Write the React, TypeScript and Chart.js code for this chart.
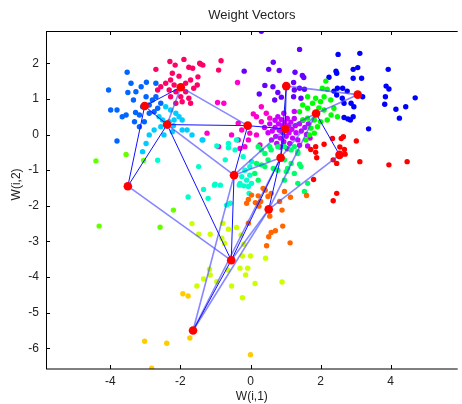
import { useEffect, useRef } from "react";
import Chart from "chart.js/auto";

const TITLE = "Weight Vectors";
const X_LABEL = "W(i,1)";
const Y_LABEL = "W(i,2)";
const X_MIN = -5.836;
const X_MAX = 5.913;
const Y_MIN = -6.581;
const Y_MAX = 2.907;
const X_STEP = 2;
const Y_STEP = 1;
// value on the y axis where the rotated y label is centred
const Y_LABEL_AT = -1.4;

// SOM neuron weight positions
const NODE_X = [-1.99, -3.02, -2.38, -0.08, -0.47, -3.5, 1.02, 3.06, 1.87, 0.99, 0.86, 2.54, 0.52, -0.55, -1.64];
const NODE_Y = [1.33, 0.8, 0.28, 0.25, -1.14, -1.45, 1.36, 1.12, 0.59, 0.16, -0.65, -0.57, -2.1, -3.53, -5.5];

// neighbour links (node index pairs)
const DARK_EDGES = [
  [0, 1], [1, 2], [1, 5], [2, 3], [2, 5], [2, 13], [3, 4], [3, 9], [6, 9], [6, 10],
  [8, 11], [12, 10], [13, 4], [13, 10], [14, 13], [9, 10],
];
const LIGHT_EDGES = [
  [0, 2], [0, 3], [2, 4], [5, 13], [6, 7], [7, 8], [8, 9], [8, 10], [11, 12], [13, 12],
  [14, 4], [14, 12], [4, 10], [4, 9], [12, 8], [14, 10],
];

// input vectors, grouped by cluster colour
const RED_PTS = [[2.65, -0.06], [2.59, -0.11], [2.34, -0.11], [2.1, -0.27], [1.86, -0.34], [1.72, -0.42], [1.86, -0.5], [1.89, -0.65], [3.02, -0.18], [2.68, -0.42], [2.36, -0.71], [2.46, -0.81], [3.12, -0.76], [3.95, -0.85], [4.47, -0.76], [1.8, -1.26], [2.46, -1.65], [2.36, -1.86], [2.55, -0.35], [2.7, -0.55]];
const ORANGE_PTS = [[0.36, -1.51], [0.42, -1.56], [0.22, -1.72], [0.03, -1.7], [-0.06, -1.82], [-0.11, -1.93], [0.14, -1.91], [0.29, -1.88], [0.5, -1.74], [0.59, -1.65], [0.97, -1.6], [1.14, -1.76], [1.6, -1.71], [0.83, -1.88], [0.24, -2.01], [0.55, -2.29], [0.9, -2.12], [-0.06, -2.49], [0.92, -2.57], [0.71, -2.7], [0.59, -2.75], [0.52, -2.87], [1.13, -3.04], [0.46, -3.12]];
const AMBER_PTS = [[-1.93, -4.47], [-1.78, -4.53], [-1.73, -5.71], [-3.02, -5.8], [-2.39, -5.86], [0.0, -6.18], [-2.82, -6.56]];
const LIME_PTS = [[-1.67, -2.5], [-1.48, -2.8], [-1.15, -2.8], [-0.79, -2.49], [-0.82, -2.91], [-0.74, -3.05], [-0.63, -2.66], [-0.4, -2.61], [-0.19, -3.08], [-0.23, -3.41], [0.0, -3.41], [-0.65, -3.8], [-1.17, -3.78], [-1.15, -3.94], [-1.34, -4.05], [-1.53, -4.25], [-0.96, -4.13], [-0.54, -4.25], [-0.3, -3.75], [-0.08, -3.75], [-0.14, -3.94], [-0.23, -4.58], [0.13, -4.18], [-0.27, -2.82], [0.43, -3.47], [0.9, -4.14]];
const CHART_PTS = [[-4.41, -0.74], [-3.55, -0.56], [-3.05, -0.73], [-4.32, -2.57], [-2.58, -2.6], [-2.2, -2.12]];
const GREEN_PTS = [[2.15, 1.5], [2.05, 1.3], [2.19, 1.27], [1.63, 1.06], [1.86, 1.02], [2.0, 0.92], [2.29, 0.97], [1.77, 0.88], [1.49, 0.83], [1.63, 0.74], [1.4, 0.64], [2.1, 0.69], [2.38, 0.74], [2.48, 0.5], [1.63, 0.46], [1.82, 0.41], [2.0, 0.36], [2.19, 0.41], [1.72, 0.18], [1.91, 0.22], [1.82, 0.04], [1.68, -0.01], [1.58, -0.15], [1.49, 0.41], [2.1, 1.06], [2.3, 0.55], [1.95, 0.75]];
const SPRING_PTS = [[0.22, -0.34], [0.41, -0.53], [0.59, -0.43], [0.78, -0.34], [0.97, -0.34], [1.16, -0.43], [1.35, -0.53], [0.5, -0.71], [0.31, -0.85], [0.97, -0.71], [1.16, -0.81], [1.44, -0.9], [0.12, -1.09], [0.78, -1.0], [1.02, -1.04], [1.25, -1.09], [1.35, -1.37], [0.97, -1.28], [0.22, -1.28], [0.31, -0.43], [0.55, -0.34], [1.25, -0.34], [1.35, -0.48], [0.17, -0.81], [0.41, -0.9], [1.06, -0.95], [1.4, -0.83], [1.63, -1.37], [1.54, -1.6], [0.65, -0.95]];
const TURQ_PTS = [[-0.96, -0.32], [-0.63, -0.37], [-0.4, -0.15], [-1.48, -0.9], [-1.01, -1.39], [-0.86, -1.42], [-0.25, -1.18], [-0.11, -1.28], [0.03, -1.37], [-0.02, -1.14], [-0.16, -1.0], [-1.78, -1.75], [-1.34, -1.54], [-1.03, -1.42], [-1.21, -1.79], [-0.32, -1.42], [-0.19, -1.44], [-0.04, -1.65], [-0.68, -1.98], [-0.63, -0.25], [-0.44, -0.43], [-0.21, -0.62], [0.03, -0.76], [-0.02, -0.9], [-0.3, -1.37], [-0.06, -1.46], [-0.58, -1.93], [-0.72, -0.71], [-2.65, -0.72]];
const SKY_PTS = [[-2.89, -0.01], [-2.75, 0.13], [-2.56, 0.22], [-2.32, 0.36], [-2.18, 0.41], [-2.04, 0.5], [-1.95, 0.41], [-2.13, 0.6], [-2.28, 0.69], [-2.42, 0.78], [-2.61, 0.5], [-2.51, 0.41], [-2.23, 0.08], [-2.47, -0.01], [-1.95, 0.13], [-1.81, 0.13], [-1.67, -0.01], [-1.38, -0.15], [-2.98, -0.25], [-3.08, -0.48], [-1.36, -0.15], [-2.2, 0.25]];
const AZURE_PTS = [[-3.52, 1.75], [-4.05, 1.25], [-3.41, 1.44], [-3.12, 1.34], [-2.97, 1.47], [-3.5, 1.18], [-3.34, 0.97], [-3.99, 0.69], [-3.81, 0.69], [-3.55, 0.55], [-3.66, 0.5], [-3.28, 0.62], [-3.17, 0.55], [-3.31, 0.36], [-3.17, 0.22], [-3.03, 0.36], [-3.81, -0.18], [-2.89, 0.83], [-2.8, 0.97], [-2.7, 1.06], [-2.89, 0.6], [-2.75, 0.64], [-2.65, 0.74], [-2.56, 0.88], [-2.98, 1.06], [-3.08, 0.78], [-2.7, 1.44], [-3.27, 1.2]];
const BLUE_PTS = [[2.5, 2.25], [3.12, 2.28], [2.44, 1.78], [2.46, 1.72], [2.93, 1.83], [3.06, 1.88], [3.93, 1.83], [2.24, 1.61], [2.93, 1.58], [3.17, 1.58], [2.38, 1.22], [2.48, 1.3], [2.63, 1.3], [2.76, 1.22], [3.2, 1.06], [3.87, 1.36], [3.95, 1.28], [3.85, 1.06], [3.83, 0.85], [4.15, 0.71], [4.43, 0.78], [4.7, 1.03], [4.25, 0.46], [3.37, 0.16], [2.67, 0.48], [2.78, 0.44], [2.93, 0.5], [2.85, 0.41], [2.95, 0.78], [2.87, 0.88], [2.67, 0.88], [2.62, 1.02], [2.46, 1.11]];
const VIOLET_PTS = [[0.31, 2.9], [1.4, 2.39], [0.65, 2.03], [-0.18, 1.78], [0.52, 1.83], [0.82, 1.8], [1.27, 1.75], [1.52, 1.6], [1.48, 1.66], [0.41, 1.38], [1.23, 1.46], [0.25, 1.14], [0.78, 1.18], [0.69, 0.97], [0.88, 1.05], [1.25, 1.25], [1.23, 1.06], [1.44, 1.02], [0.64, 1.34], [1.4, 1.3], [1.54, 1.27]];
const PURPLE_PTS = [[0.55, 0.3], [0.62, 0.1], [0.7, 0.4], [0.7, 0.2], [0.72, -0.05], [0.78, 0.5], [0.8, 0.3], [0.82, 0.12], [0.85, -0.1], [0.88, 0.42], [0.9, 0.25], [0.92, 0.05], [0.95, 0.6], [0.95, -0.2], [0.98, 0.35], [1.0, 0.15], [1.02, -0.05], [1.05, 0.45], [1.08, 0.25], [1.1, 0.05], [1.12, -0.25], [1.15, 0.35], [1.18, 0.15], [1.2, -0.1], [1.25, 0.45], [1.28, 0.25], [1.3, 0.05], [1.35, -0.15], [1.4, 0.3], [1.45, 0.1], [1.5, 0.4], [1.55, 0.2], [1.6, 0.0], [0.75, -0.25], [0.85, -0.35], [1.05, -0.4], [0.6, -0.15], [1.65, 0.3], [0.5, 0.05], [1.25, 0.65], [1.4, -0.3], [0.4, 0.2], [1.7, -0.1], [1.63, -0.32]];
const PINK_PTS = [[-0.94, 0.9], [-0.76, 0.88], [0.31, 0.78], [0.08, 0.58], [0.17, 0.5], [0.45, 0.6], [0.55, 0.46], [0.31, 0.36], [-0.35, 0.32], [-0.25, 0.13], [-0.02, 0.04], [0.17, -0.01], [-0.54, -0.01], [-1.24, 0.04], [-0.35, -0.15], [-0.06, -0.15], [-0.16, -0.34], [-0.3, -0.39], [-0.91, -0.34], [0.27, -0.29], [-0.37, 1.46]];
const ROSE_PTS = [[-2.3, 2.05], [-2.15, 1.95], [-1.9, 2.11], [-1.76, 1.89], [-1.65, 1.86], [-1.43, 1.98], [-1.36, 1.95], [-1.5, 1.62], [-2.23, 1.72], [-2.04, 1.64], [-2.28, 1.53], [-2.42, 1.44], [-2.18, 1.39], [-1.85, 1.44], [-1.71, 1.53], [-2.56, 1.34], [-2.32, 1.25], [-2.13, 1.2], [-1.85, 1.2], [-1.62, 1.3], [-1.52, 1.39], [-2.65, 1.25], [-2.28, 1.06], [-1.99, 1.06], [-1.76, 1.02], [-1.95, 0.92], [-2.13, 0.88], [-1.71, 0.88], [-0.84, 2.07], [-1.45, 2.0], [-2.7, 1.83], [-0.91, 1.81]];

const CLUSTERS: [number[][], string][] = [
  [RED_PTS, "#ff0000"],
  [ORANGE_PTS, "#ff6600"],
  [AMBER_PTS, "#ffcc00"],
  [LIME_PTS, "#ccff00"],
  [CHART_PTS, "#66ff00"],
  [GREEN_PTS, "#00ff00"],
  [SPRING_PTS, "#00ff66"],
  [TURQ_PTS, "#00ffcc"],
  [SKY_PTS, "#00ccff"],
  [AZURE_PTS, "#0066ff"],
  [BLUE_PTS, "#0000ff"],
  [VIOLET_PTS, "#6600ff"],
  [PURPLE_PTS, "#cc00ff"],
  [PINK_PTS, "#ff00cc"],
  [ROSE_PTS, "#ff0066"],
];

const FONT = "'Liberation Sans', Arial, sans-serif";

const boxPlugin = {
  id: "matlabBox",
  afterDatasetsDraw(chart: any) {
    const { ctx, chartArea, scales } = chart;
    const { left, right, top, bottom } = chartArea;
    ctx.save();
    ctx.strokeStyle = "#000";
    ctx.lineWidth = 1;
    ctx.beginPath();
    ctx.moveTo(left, top + 0.5);
    ctx.lineTo(right, top + 0.5);
    ctx.moveTo(left + 0.5, top);
    ctx.lineTo(left + 0.5, bottom);
    ctx.moveTo(left, bottom);
    ctx.lineTo(right, bottom);
    const tl = 4;
    for (const t of scales.x.ticks) {
      const px = Math.round(scales.x.getPixelForValue(t.value)) + 0.5;
      ctx.moveTo(px, bottom);
      ctx.lineTo(px, bottom - tl);
      ctx.moveTo(px, top);
      ctx.lineTo(px, top + tl);
    }
    for (const t of scales.y.ticks) {
      const py = Math.round(scales.y.getPixelForValue(t.value)) + 0.5;
      ctx.moveTo(left, py);
      ctx.lineTo(left + tl, py);
    }
    ctx.stroke();
    // rotated y-axis label
    const cy = scales.y.getPixelForValue(Y_LABEL_AT);
    ctx.translate(17, cy);
    ctx.rotate(-Math.PI / 2);
    ctx.fillStyle = "#222";
    ctx.font = `12px ${FONT}`;
    ctx.textAlign = "center";
    ctx.textBaseline = "middle";
    ctx.fillText(Y_LABEL, 0, 0);
    ctx.restore();
  },
};

export default function App() {
  const ref = useRef<HTMLCanvasElement | null>(null);
  useEffect(() => {
    if (!ref.current) return;
    const datasets: any[] = [];
    datasets.push({
      label: "neurons",
      data: NODE_X.map((x, i) => ({ x, y: NODE_Y[i] })),
      pointRadius: 4.3,
      pointBackgroundColor: "#ff0000",
      pointBorderWidth: 0,
      showLine: false,
      order: 0,
    });
    DARK_EDGES.forEach(([a, b]) => {
      datasets.push({
        data: [{ x: NODE_X[a], y: NODE_Y[a] }, { x: NODE_X[b], y: NODE_Y[b] }],
        showLine: true,
        borderColor: "#1010ff",
        borderWidth: 1,
        pointRadius: 0,
        order: 1,
      });
    });
    LIGHT_EDGES.forEach(([a, b]) => {
      datasets.push({
        data: [{ x: NODE_X[a], y: NODE_Y[a] }, { x: NODE_X[b], y: NODE_Y[b] }],
        showLine: true,
        borderColor: "rgba(70,70,255,0.65)",
        borderWidth: 1.6,
        pointRadius: 0,
        order: 2,
      });
    });
    CLUSTERS.forEach(([pts, color]) => {
      datasets.push({
        data: pts.map(([x, y]) => ({ x, y })),
        pointRadius: 2.7,
        pointBackgroundColor: color,
        pointBorderWidth: 0,
        showLine: false,
        order: 3,
      });
    });
    const chart = new Chart(ref.current, {
      type: "scatter",
      data: { datasets },
      options: {
        animation: false,
        responsive: false,
        devicePixelRatio: 1,
        layout: { padding: 0 },
        plugins: {
          legend: { display: false },
          tooltip: { enabled: false },
          title: {
            display: true,
            text: TITLE,
            fullSize: false,
            color: "#222",
            font: { family: FONT, size: 13, weight: "normal" },
            padding: { top: 8, bottom: 7.4 },
          },
        },
        scales: {
          x: {
            type: "linear",
            min: X_MIN,
            max: X_MAX,
            afterFit: (s: any) => { s.height = 35; },
            grid: { display: false, drawTicks: false },
            border: { display: false },
            ticks: {
              stepSize: X_STEP,
              includeBounds: false,
              padding: 5,
              color: "#222",
              font: { family: FONT, size: 12 },
            },
            title: {
              display: true,
              text: X_LABEL,
              color: "#222",
              font: { family: FONT, size: 12 },
              padding: { top: 0, bottom: 0 },
            },
          },
          y: {
            type: "linear",
            min: Y_MIN,
            max: Y_MAX,
            afterFit: (s: any) => { s.width = 46; },
            grid: { display: false, drawTicks: false },
            border: { display: false },
            ticks: {
              stepSize: Y_STEP,
              includeBounds: false,
              padding: 7,
              color: "#222",
              font: { family: FONT, size: 12 },
            },
            title: { display: false },
          },
        },
      },
      plugins: [boxPlugin],
    });
    return () => chart.destroy();
  }, []);
  return (
    <div style={{ position: "absolute", left: 0, top: 0, width: 462, height: 404, background: "#fff" }}>
      <canvas ref={ref} width={462} height={404} style={{ display: "block" }} />
    </div>
  );
}
